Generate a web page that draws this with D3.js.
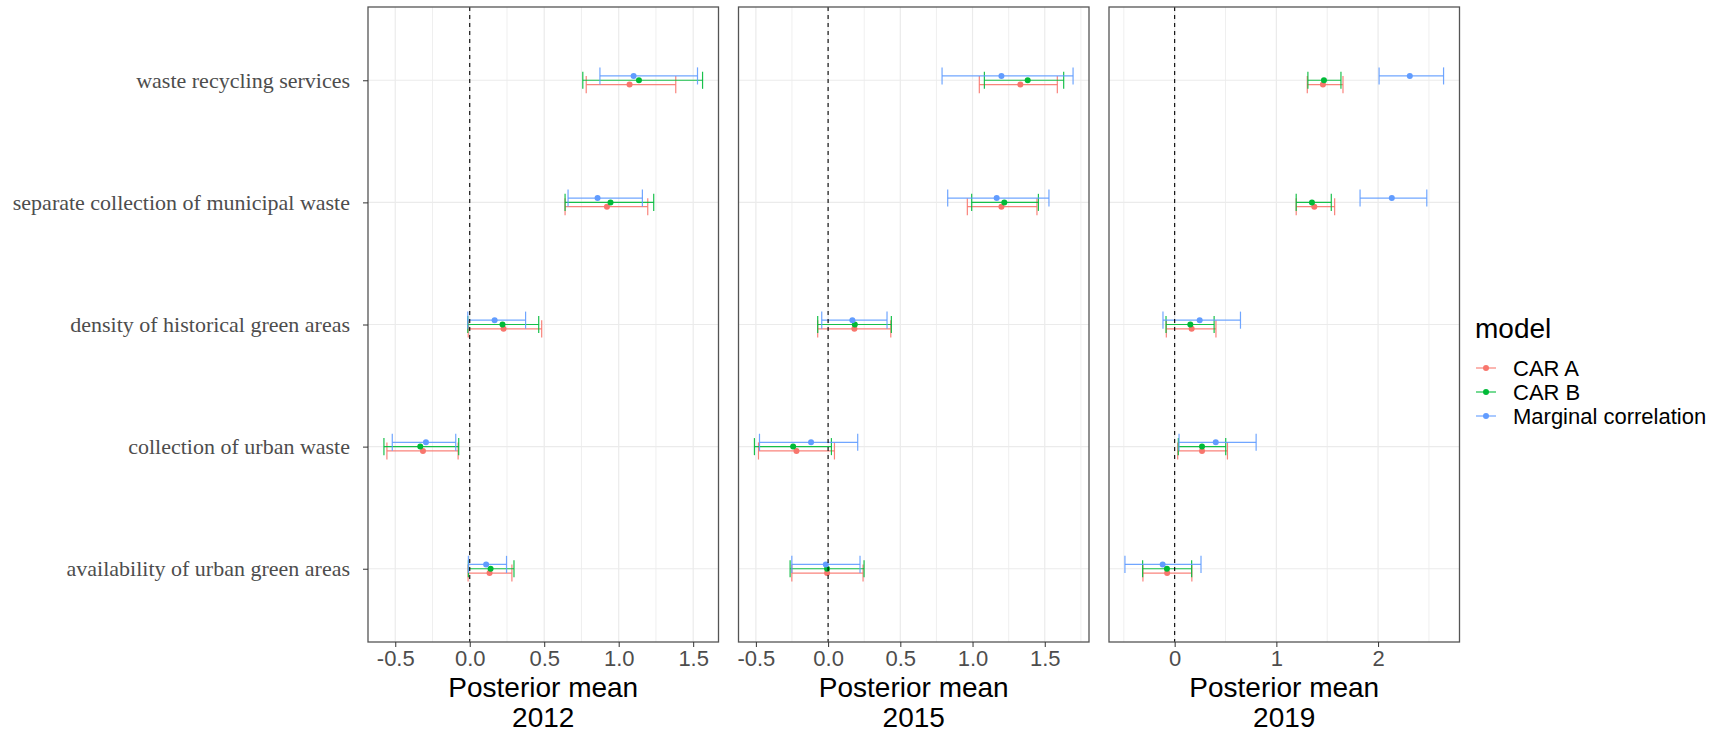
<!DOCTYPE html>
<html lang="en">
<head>
<meta charset="UTF-8">
<title>Posterior mean by model</title>
<script src="https://d3js.org/d3.v7.min.js"></script>
<style>
  body { margin: 0; background: #fff; }
  svg text { font-family: "Liberation Sans", Arial, sans-serif; }
</style>
</head>
<body>
<div id="chart"></div>
<script>
// categories, top to bottom
const categories = [
  "waste recycling services",
  "separate collection of municipal waste",
  "density of historical green areas",
  "collection of urban waste",
  "availability of urban green areas"
];
const models = ["CAR A", "CAR B", "Marginal correlation"];
const years = ["2012", "2015", "2019"];

// one row per model, one column per category
const mean2012  = [[1.073, 0.921, 0.227, -0.314, 0.133],
                   [1.136, 0.945, 0.220, -0.332, 0.140],
                   [1.100, 0.858, 0.167, -0.294, 0.110]];
const lower2012 = [[0.782, 0.640, -0.010, -0.556, -0.011],
                   [0.759, 0.640, -0.013, -0.576, -0.009],
                   [0.874, 0.660, -0.013, -0.520, -0.009]];
const upper2012 = [[1.383, 1.195, 0.483, -0.078, 0.283],
                   [1.563, 1.235, 0.463, -0.074, 0.297],
                   [1.529, 1.159, 0.375, -0.094, 0.247]];

const mean2015  = [[1.331, 1.200, 0.182, -0.219, -0.007],
                   [1.382, 1.220, 0.185, -0.242, -0.007],
                   [1.200, 1.167, 0.168, -0.118, -0.016]];
const lower2015 = [[1.047, 0.964, -0.072, -0.482, -0.251],
                   [1.082, 0.994, -0.072, -0.510, -0.263],
                   [0.789, 0.828, -0.044, -0.475, -0.251]];
const upper2015 = [[1.587, 1.446, 0.434, 0.044, 0.242],
                   [1.631, 1.456, 0.438, 0.023, 0.249],
                   [1.696, 1.529, 0.408, 0.205, 0.221]];

const mean2019  = [[1.458, 1.373, 0.167, 0.269, -0.074],
                   [1.468, 1.350, 0.154, 0.269, -0.076],
                   [2.312, 2.135, 0.246, 0.404, -0.118]];
const lower2019 = [[1.304, 1.195, -0.082, 0.030, -0.312],
                   [1.310, 1.195, -0.085, 0.036, -0.315],
                   [2.010, 1.823, -0.115, 0.043, -0.489]];
const upper2019 = [[1.655, 1.573, 0.406, 0.519, 0.169],
                   [1.635, 1.540, 0.388, 0.502, 0.167],
                   [2.644, 2.479, 0.647, 0.801, 0.259]];

// x axis breaks and their labels
const ticks2012 = [-0.5, 0, 0.5, 1, 1.5];
const tickLabels2012 = ["-0.5", "0.0", "0.5", "1.0", "1.5"];
const ticks2015 = [-0.5, 0, 0.5, 1, 1.5];
const tickLabels2015 = ["-0.5", "0.0", "0.5", "1.0", "1.5"];
const ticks2019 = [0, 1, 2];
const tickLabels2019 = ["0", "1", "2"];

const panels = [
  { year: years[0], mean: mean2012, lower: lower2012, upper: upper2012, ticks: ticks2012, labels: tickLabels2012 },
  { year: years[1], mean: mean2015, lower: lower2015, upper: upper2015, ticks: ticks2015, labels: tickLabels2015 },
  { year: years[2], mean: mean2019, lower: lower2019, upper: upper2019, ticks: ticks2019, labels: tickLabels2019 }
];

// layout
const width = 1727, height = 736;
const margin = { top: 7, left: 368 };
const panelW = 350.5, panelH = 635, panelGap = 20;
const colors = ["#F8766D", "#00BA38", "#619CFF"];
const color = d3.scaleOrdinal().domain(models).range(colors);

const svg = d3.select("#chart").append("svg")
    .attr("width", width)
    .attr("height", height);

svg.append("rect").attr("width", width).attr("height", height).attr("fill", "#fff");

// shared y: discrete categories with ggplot-like 0.6 expansion
const y = d3.scalePoint()
    .domain(categories)
    .range([0, panelH])
    .padding(0.6);
const step = y.step();

// dodge: CAR A lowest, marginal on top
const dodge = d3.scalePoint()
    .domain(models.slice().reverse())
    .range([-step * 0.0355, step * 0.0355]);
const capHalf = step * 0.07;

panels.forEach((p, pi) => {
    const x0 = margin.left + pi * (panelW + panelGap);
    const g = svg.append("g").attr("transform", `translate(${x0},${margin.top})`);

    // flatten the values of this year
    const rows = [];
    models.forEach((m, mi) => {
        categories.forEach((c, ci) => {
            rows.push({ model: m, category: c, mean: p.mean[mi][ci], lower: p.lower[mi][ci], upper: p.upper[mi][ci] });
        });
    });

    // x domain = data range padded 5% each side
    const lo = d3.min(rows, d => d.lower), hi = d3.max(rows, d => d.upper);
    const pad = (hi - lo) * 0.05;
    const x = d3.scaleLinear().domain([lo - pad, hi + pad]).range([0, panelW]);

    // minor breaks halfway between the major ones
    const dt = p.ticks[1] - p.ticks[0];
    const minor = [p.ticks[0] - dt / 2].concat(p.ticks.map(t => t + dt / 2))
        .filter(v => v >= x.domain()[0] && v <= x.domain()[1]);

    g.selectAll(".minor").data(minor).join("line")
        .attr("x1", d => x(d)).attr("x2", d => x(d))
        .attr("y1", 0).attr("y2", panelH)
        .attr("stroke", "#EDEDED").attr("stroke-width", 0.9);

    g.selectAll(".major").data(p.ticks).join("line")
        .attr("x1", d => x(d)).attr("x2", d => x(d))
        .attr("y1", 0).attr("y2", panelH)
        .attr("stroke", "#EBEBEB").attr("stroke-width", 1.2);

    g.selectAll(".hgrid").data(categories).join("line")
        .attr("x1", 0).attr("x2", panelW)
        .attr("y1", d => y(d)).attr("y2", d => y(d))
        .attr("stroke", "#EBEBEB").attr("stroke-width", 1.2);

    // error bars
    const bars = g.selectAll(".bar").data(rows).join("g")
        .attr("stroke", d => color(d.model))
        .attr("stroke-width", 1.2)
        .attr("stroke-opacity", 0.9);

    bars.append("line")
        .attr("x1", d => x(d.lower)).attr("x2", d => x(d.upper))
        .attr("y1", d => y(d.category) + dodge(d.model))
        .attr("y2", d => y(d.category) + dodge(d.model));
    bars.append("line")
        .attr("x1", d => x(d.lower)).attr("x2", d => x(d.lower))
        .attr("y1", d => y(d.category) + dodge(d.model) - capHalf)
        .attr("y2", d => y(d.category) + dodge(d.model) + capHalf);
    bars.append("line")
        .attr("x1", d => x(d.upper)).attr("x2", d => x(d.upper))
        .attr("y1", d => y(d.category) + dodge(d.model) - capHalf)
        .attr("y2", d => y(d.category) + dodge(d.model) + capHalf);

    // points
    g.selectAll(".pt").data(rows).join("circle")
        .attr("cx", d => x(d.mean))
        .attr("cy", d => y(d.category) + dodge(d.model))
        .attr("r", 3)
        .attr("fill", d => color(d.model));

    // dashed zero line
    g.append("line")
        .attr("x1", x(0)).attr("x2", x(0))
        .attr("y1", 0).attr("y2", panelH)
        .attr("stroke", "#000").attr("stroke-width", 1.1)
        .attr("stroke-dasharray", "4,4");

    // panel border
    g.append("rect")
        .attr("width", panelW).attr("height", panelH)
        .attr("fill", "none").attr("stroke", "#555").attr("stroke-width", 1.3);

    // x axis
    const xAxis = g.append("g")
        .attr("transform", `translate(0,${panelH})`)
        .call(d3.axisBottom(x).tickValues(p.ticks).tickSize(5).tickPadding(3)
            .tickFormat((d, i) => p.labels[i]));
    xAxis.select(".domain").remove();
    xAxis.selectAll("line").attr("stroke", "#333");
    xAxis.selectAll("text")
        .attr("fill", "#4D4D4D")
        .style("font-size", "22px")
        .style("font-family", "'Liberation Sans', Arial, sans-serif");

    // axis title, two lines
    const title = g.append("text")
        .attr("text-anchor", "middle")
        .attr("fill", "#000")
        .style("font-size", "28px");
    title.append("tspan").attr("x", panelW / 2).attr("y", 690).text("Posterior mean");
    title.append("tspan").attr("x", panelW / 2).attr("y", 720).text(p.year);

    // y axis on the first panel only
    if (pi === 0) {
        const yAxis = g.append("g")
            .call(d3.axisLeft(y).tickSize(5).tickPadding(13));
        yAxis.select(".domain").remove();
        yAxis.selectAll("line").attr("stroke", "#333");
        yAxis.selectAll("text")
            .attr("fill", "#4D4D4D")
            .style("font-size", "22px")
            .style("font-family", "'Liberation Serif', 'Times New Roman', serif");
    }
});

// legend
const legend = svg.append("g").attr("transform", "translate(1475,0)");
legend.append("text")
    .attr("x", 0).attr("y", 338)
    .style("font-size", "28px")
    .text("model");

const keys = legend.selectAll(".key").data(models).join("g")
    .attr("transform", (d, i) => `translate(0,${368 + i * 24})`);
keys.append("line")
    .attr("x1", 1).attr("x2", 21)
    .attr("stroke", d => color(d)).attr("stroke-width", 1.2).attr("stroke-opacity", 0.9);
keys.append("circle")
    .attr("cx", 11).attr("r", 3)
    .attr("fill", d => color(d));
keys.append("text")
    .attr("x", 38).attr("dy", "0.36em")
    .style("font-size", "22px")
    .attr("fill", "#000")
    .text(d => d);
</script>
</body>
</html>
